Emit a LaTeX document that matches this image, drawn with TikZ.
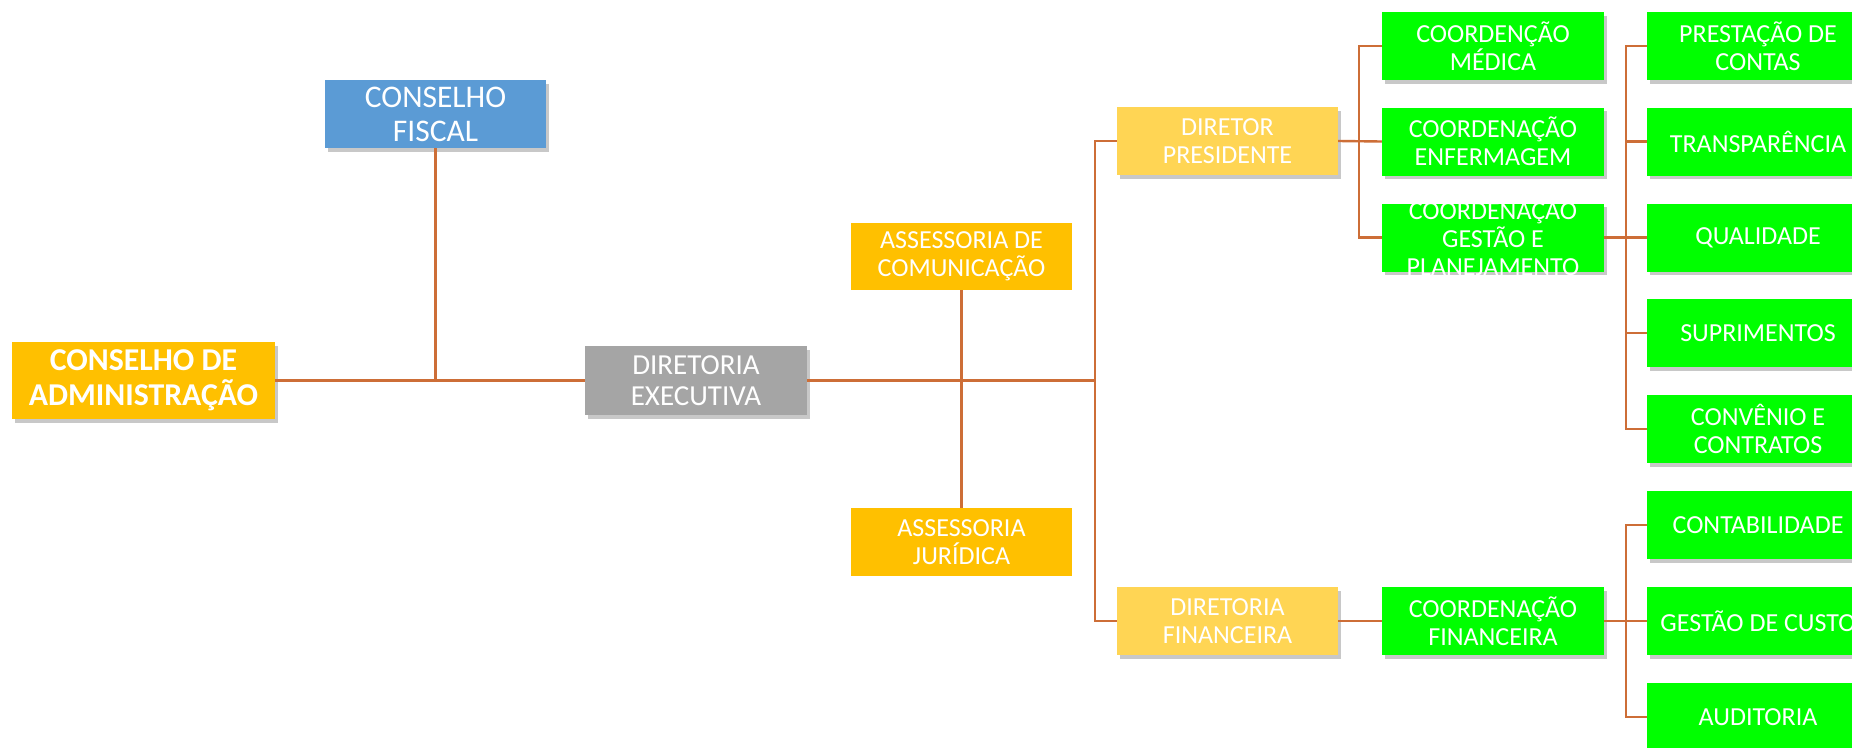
\documentclass[tikz,border=0pt]{standalone}
\usepackage{fontspec}
\setmainfont{Carlito}
\usetikzlibrary{shadows}
\definecolor{gold}{RGB}{255,192,0}
\definecolor{lgold}{RGB}{255,213,84}
\definecolor{fblue}{RGB}{91,155,213}
\definecolor{dgray}{RGB}{165,165,165}
\definecolor{lgreen}{RGB}{0,255,0}
\definecolor{link}{RGB}{205,110,55}
\begin{document}
\begin{tikzpicture}[x=1pt,y=-1pt,
  box/.style={rectangle, inner sep=0pt, minimum width=221pt, minimum height=68pt,
    align=center, text=white, font=\fontsize{26}{28}\selectfont},
  shad/.style={drop shadow={shadow xshift=2.5pt, shadow yshift=-3.5pt, opacity=0.3, fill=black!70}},
  gbox/.style={box, shad, fill=lgreen, minimum width=222pt},
  txt/.style={inner sep=0pt, align=center, text=white, font=\fontsize{26}{28}\selectfont},
  conn/.style={draw=link, line width=2.4pt}]
\useasboundingbox (0,0) rectangle (1852,747);
\clip (0,0) rectangle (1852,747);
\fill[white] (0,0) rectangle (1852,747);

\coordinate (bx) at (1095,0);
\coordinate (b2) at (1359,0);
\coordinate (b3) at (1626,0);

\node[box, shad, fill=gold, minimum width=263pt, minimum height=77pt,
  font=\fontsize{31.8}{35}\selectfont\bfseries] (adm) at (143.5,380.5) {CONSELHO DE\\ADMINISTRAÇÃO};
\node[box, shad, fill=fblue, font=\fontsize{31.5}{34}\selectfont] (fis) at (435.5,114) {CONSELHO\\FISCAL};
\node[box, shad, fill=dgray, minimum width=222pt, minimum height=69pt,
  font=\fontsize{29}{31}\selectfont] (dex) at (696,380.5) {DIRETORIA\\EXECUTIVA};
\node[box, fill=gold, minimum height=67pt] (acom) at (961.5,256.5) {ASSESSORIA DE\\COMUNICAÇÃO};
\node[box, fill=gold] (ajur) at (961.5,542) {ASSESSORIA\\JURÍDICA};
\node[box, shad, fill=lgold] (dp) at (1227.5,141) {DIRETOR\\PRESIDENTE};
\node[box, shad, fill=lgold] (dfin) at (1227.5,621) {DIRETORIA\\FINANCEIRA};

\node[gbox] (cmed) at (1493,46) {COORDENÇÃO\\MÉDICA};
\node[gbox] (cenf) at (1493,141.5) {COORDENAÇÃO\\ENFERMAGEM};
\node[gbox] (cges) at (1493,237.5) {};
\node[txt] (cgest) at (cges.center) {COORDENAÇÃO\\GESTÃO E\\PLANEJAMENTO};
\node[gbox] (cfin) at (1493,621) {COORDENAÇÃO\\FINANCEIRA};

\node[gbox] (pres) at (1758,46) {PRESTAÇÃO DE\\CONTAS};
\node[gbox] (tran) at (1758,141.5) {TRANSPARÊNCIA};
\node[gbox] (qual) at (1758,237.5) {QUALIDADE};
\node[gbox] (supr) at (1758,333) {SUPRIMENTOS};
\node[gbox] (conv) at (1758,429) {CONVÊNIO E\\CONTRATOS};
\node[gbox] (cont) at (1758,525) {CONTABILIDADE};
\node[gbox] (cust) at (1758,621) {GESTÃO DE CUSTO};
\node[gbox] (aud) at (1758,717) {AUDITORIA};

\draw[conn] (adm.east) -- (dex.west);
\draw[conn] (fis.south) -- (fis.south |- adm.east);
\draw[conn] (dex.east) -- (bx |- dex.east);
\draw[conn] (acom.south) -- (ajur.north);
\draw[conn] (dp.west) -- (bx |- dp.west) -- (bx |- dfin.west) -- (dfin.west);
\draw[conn] (dp.east) -- (cenf.west);
\draw[conn] (cmed.west) -- (b2 |- cmed.west) -- (b2 |- cges.west) -- (cges.west);
\draw[conn] (cges.east) -- (b3 |- cges.east);
\draw[conn] (pres.west) -- (b3 |- pres.west) -- (b3 |- conv.west) -- (conv.west);
\foreach \n in {tran,qual,supr} \draw[conn] (\n.west) -- (b3 |- \n.west);
\draw[conn] (dfin.east) -- (cfin.west);
\draw[conn] (cfin.east) -- (cust.west);
\draw[conn] (cont.west) -- (b3 |- cont.west) -- (b3 |- aud.west) -- (aud.west);
\end{tikzpicture}
\end{document}
